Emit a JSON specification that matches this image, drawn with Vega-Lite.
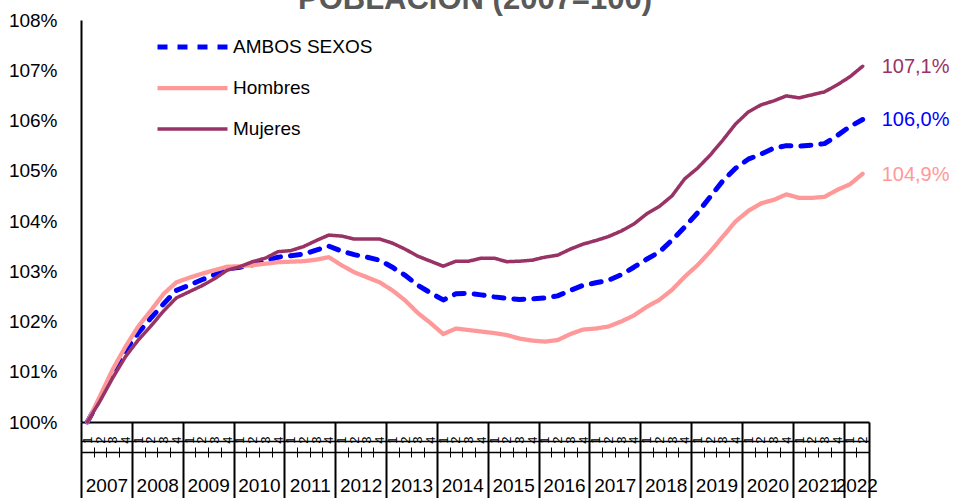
{
  "$schema": "https://vega.github.io/schema/vega-lite/v6.json",
  "width": 788,
  "height": 402,
  "autosize": {"type": "none"},
  "padding": {"left": 81, "top": 20, "right": 86, "bottom": 76},
  "background": "white",
  "config": {"view": {"stroke": null}, "font": "Liberation Sans", "axis": {"grid": false}},
  "title": {"text": "POBLACIÓN (2007=100)", "fontSize": 31, "fontWeight": "bold", "color": "#595959", "anchor": "middle", "offset": -5},
  "data": {"values": [
    {"t":0,"AMBOS SEXOS":100.00,"Hombres":100.00,"Mujeres":100.00},
    {"t":1,"AMBOS SEXOS":100.47,"Hombres":100.52,"Mujeres":100.42},
    {"t":2,"AMBOS SEXOS":100.96,"Hombres":101.05,"Mujeres":100.88},
    {"t":3,"AMBOS SEXOS":101.43,"Hombres":101.50,"Mujeres":101.30},
    {"t":4,"AMBOS SEXOS":101.77,"Hombres":101.90,"Mujeres":101.63},
    {"t":5,"AMBOS SEXOS":102.07,"Hombres":102.22,"Mujeres":101.91},
    {"t":6,"AMBOS SEXOS":102.35,"Hombres":102.55,"Mujeres":102.21},
    {"t":7,"AMBOS SEXOS":102.62,"Hombres":102.78,"Mujeres":102.47},
    {"t":8,"AMBOS SEXOS":102.72,"Hombres":102.87,"Mujeres":102.59},
    {"t":9,"AMBOS SEXOS":102.83,"Hombres":102.95,"Mujeres":102.71},
    {"t":10,"AMBOS SEXOS":102.93,"Hombres":103.02,"Mujeres":102.85},
    {"t":11,"AMBOS SEXOS":103.05,"Hombres":103.09,"Mujeres":103.02},
    {"t":12,"AMBOS SEXOS":103.08,"Hombres":103.10,"Mujeres":103.09},
    {"t":13,"AMBOS SEXOS":103.13,"Hombres":103.12,"Mujeres":103.19},
    {"t":14,"AMBOS SEXOS":103.20,"Hombres":103.15,"Mujeres":103.26},
    {"t":15,"AMBOS SEXOS":103.28,"Hombres":103.18,"Mujeres":103.39},
    {"t":16,"AMBOS SEXOS":103.31,"Hombres":103.19,"Mujeres":103.41},
    {"t":17,"AMBOS SEXOS":103.34,"Hombres":103.20,"Mujeres":103.49},
    {"t":18,"AMBOS SEXOS":103.42,"Hombres":103.23,"Mujeres":103.61},
    {"t":19,"AMBOS SEXOS":103.50,"Hombres":103.28,"Mujeres":103.72},
    {"t":20,"AMBOS SEXOS":103.40,"Hombres":103.12,"Mujeres":103.70},
    {"t":21,"AMBOS SEXOS":103.33,"Hombres":102.98,"Mujeres":103.64},
    {"t":22,"AMBOS SEXOS":103.28,"Hombres":102.88,"Mujeres":103.64},
    {"t":23,"AMBOS SEXOS":103.22,"Hombres":102.78,"Mujeres":103.64},
    {"t":24,"AMBOS SEXOS":103.08,"Hombres":102.62,"Mujeres":103.56},
    {"t":25,"AMBOS SEXOS":102.92,"Hombres":102.42,"Mujeres":103.44},
    {"t":26,"AMBOS SEXOS":102.72,"Hombres":102.17,"Mujeres":103.30},
    {"t":27,"AMBOS SEXOS":102.57,"Hombres":101.97,"Mujeres":103.20},
    {"t":28,"AMBOS SEXOS":102.43,"Hombres":101.75,"Mujeres":103.10},
    {"t":29,"AMBOS SEXOS":102.55,"Hombres":101.86,"Mujeres":103.20},
    {"t":30,"AMBOS SEXOS":102.56,"Hombres":101.83,"Mujeres":103.20},
    {"t":31,"AMBOS SEXOS":102.53,"Hombres":101.80,"Mujeres":103.26},
    {"t":32,"AMBOS SEXOS":102.49,"Hombres":101.77,"Mujeres":103.26},
    {"t":33,"AMBOS SEXOS":102.46,"Hombres":101.73,"Mujeres":103.19},
    {"t":34,"AMBOS SEXOS":102.44,"Hombres":101.66,"Mujeres":103.20},
    {"t":35,"AMBOS SEXOS":102.45,"Hombres":101.62,"Mujeres":103.22},
    {"t":36,"AMBOS SEXOS":102.47,"Hombres":101.60,"Mujeres":103.28},
    {"t":37,"AMBOS SEXOS":102.51,"Hombres":101.63,"Mujeres":103.32},
    {"t":38,"AMBOS SEXOS":102.62,"Hombres":101.75,"Mujeres":103.44},
    {"t":39,"AMBOS SEXOS":102.72,"Hombres":101.84,"Mujeres":103.54},
    {"t":40,"AMBOS SEXOS":102.77,"Hombres":101.86,"Mujeres":103.61},
    {"t":41,"AMBOS SEXOS":102.82,"Hombres":101.90,"Mujeres":103.69},
    {"t":42,"AMBOS SEXOS":102.93,"Hombres":102.00,"Mujeres":103.80},
    {"t":43,"AMBOS SEXOS":103.08,"Hombres":102.12,"Mujeres":103.94},
    {"t":44,"AMBOS SEXOS":103.24,"Hombres":102.29,"Mujeres":104.14},
    {"t":45,"AMBOS SEXOS":103.38,"Hombres":102.43,"Mujeres":104.29},
    {"t":46,"AMBOS SEXOS":103.62,"Hombres":102.63,"Mujeres":104.50},
    {"t":47,"AMBOS SEXOS":103.88,"Hombres":102.89,"Mujeres":104.84},
    {"t":48,"AMBOS SEXOS":104.16,"Hombres":103.12,"Mujeres":105.05},
    {"t":49,"AMBOS SEXOS":104.48,"Hombres":103.39,"Mujeres":105.31},
    {"t":50,"AMBOS SEXOS":104.80,"Hombres":103.69,"Mujeres":105.61},
    {"t":51,"AMBOS SEXOS":105.05,"Hombres":103.99,"Mujeres":105.93},
    {"t":52,"AMBOS SEXOS":105.23,"Hombres":104.20,"Mujeres":106.17},
    {"t":53,"AMBOS SEXOS":105.33,"Hombres":104.35,"Mujeres":106.31},
    {"t":54,"AMBOS SEXOS":105.45,"Hombres":104.42,"Mujeres":106.39},
    {"t":55,"AMBOS SEXOS":105.50,"Hombres":104.53,"Mujeres":106.49},
    {"t":56,"AMBOS SEXOS":105.49,"Hombres":104.46,"Mujeres":106.45},
    {"t":57,"AMBOS SEXOS":105.51,"Hombres":104.46,"Mujeres":106.51},
    {"t":58,"AMBOS SEXOS":105.54,"Hombres":104.48,"Mujeres":106.57},
    {"t":59,"AMBOS SEXOS":105.70,"Hombres":104.62,"Mujeres":106.71},
    {"t":60,"AMBOS SEXOS":105.88,"Hombres":104.73,"Mujeres":106.87},
    {"t":61,"AMBOS SEXOS":106.02,"Hombres":104.94,"Mujeres":107.08}
  ]},
  "transform": [{"fold": ["AMBOS SEXOS", "Hombres", "Mujeres"], "as": ["serie", "valor"]}],
  "resolve": {"scale": {"x": "independent"}, "axis": {"x": "independent"}},
  "layer": [
    {
      "mark": {"type": "line", "strokeCap": "round", "strokeJoin": "round"},
      "encoding": {
        "x": {"field": "t", "type": "quantitative", "title": null,
              "scale": {"domain": [-0.5, 61.5], "nice": false, "zero": false},
              "axis": {"orient": "bottom", "values": [-0.5,3.5,7.5,11.5,15.5,19.5,23.5,27.5,31.5,35.5,39.5,43.5,47.5,51.5,55.5,59.5,61.5],
                       "labels": false, "ticks": true, "tickSize": 76, "tickWidth": 2, "tickColor": "#000000",
                       "domain": true, "domainColor": "#000000", "domainWidth": 2, "grid": false}},
        "y": {"field": "valor", "type": "quantitative", "title": null,
              "scale": {"domain": [100, 108], "nice": false, "zero": false},
              "axis": {"values": [100,101,102,103,104,105,106,107,108], "labelExpr": "datum.value + '%'",
                       "ticks": false, "labelPadding": 24, "labelFontSize": 19, "labelColor": "#000000",
                       "labelFont": "Liberation Sans", "domainColor": "#000000", "domainWidth": 2, "grid": false}},
        "color": {"field": "serie", "type": "nominal", "title": null,
                  "scale": {"domain": ["AMBOS SEXOS", "Hombres", "Mujeres"], "range": ["#0000FF", "#FF9999", "#993366"]},
                  "legend": {"orient": "none", "legendX": 74, "legendY": 6.5, "symbolType": "stroke", "symbolSize": 4900,
                             "clipHeight": 41, "rowPadding": 0, "labelFontSize": 19, "labelFont": "Liberation Sans", "labelColor": "#000000",
                             "labelOffset": 3, "padding": 0, "title": null}},
        "strokeDash": {"field": "serie", "type": "nominal", "title": null,
                       "scale": {"domain": ["AMBOS SEXOS", "Hombres", "Mujeres"], "range": [[10, 10], [1, 0], [1, 0]]},
                       "legend": {"orient": "none", "legendX": 74, "legendY": 6.5, "symbolType": "stroke", "symbolSize": 4900,
                             "clipHeight": 41, "rowPadding": 0, "labelFontSize": 19, "labelFont": "Liberation Sans", "labelColor": "#000000",
                             "labelOffset": 3, "padding": 0, "title": null}},
        "strokeWidth": {"field": "serie", "type": "nominal", "title": null,
                        "scale": {"domain": ["AMBOS SEXOS", "Hombres", "Mujeres"], "range": [5, 3.5, 3.5]},
                        "legend": {"orient": "none", "legendX": 74, "legendY": 6.5, "symbolType": "stroke", "symbolSize": 4900,
                             "clipHeight": 41, "rowPadding": 0, "labelFontSize": 19, "labelFont": "Liberation Sans", "labelColor": "#000000",
                             "labelOffset": 3, "padding": 0, "title": null}}
      }
    },
    {
      "transform": [{"filter": "datum.t == 61"}, {"calculate": "replace(format(datum.valor, '.1f'), '.', ',') + '%'", "as": "etiqueta"}],
      "mark": {"type": "text", "align": "left", "baseline": "middle", "dx": 19, "dy": 1, "fontSize": 20, "font": "Liberation Sans"},
      "encoding": {
        "x": {"field": "t", "type": "quantitative", "scale": {"domain": [-0.5, 61.5], "nice": false, "zero": false}, "axis": null},
        "y": {"field": "valor", "type": "quantitative", "scale": {"domain": [100, 108], "nice": false, "zero": false}},
        "text": {"field": "etiqueta"},
        "color": {"field": "serie", "type": "nominal", "legend": null,
                  "scale": {"domain": ["AMBOS SEXOS", "Hombres", "Mujeres"], "range": ["#0000FF", "#FF9999", "#993366"]}}
      }
    },
    {
      "mark": {"type": "point", "opacity": 0},
      "encoding": {
        "x": {"field": "t", "type": "quantitative", "title": null,
              "scale": {"domain": [-0.5, 61.5], "nice": false, "zero": false},
              "axis": {"orient": "bottom", "offset": 19, "values": [0,1,2,3,4,5,6,7,8,9,10,11,12,13,14,15,16,17,18,19,20,21,22,23,24,25,26,27,28,29,30,31,32,33,34,35,36,37,38,39,40,41,42,43,44,45,46,47,48,49,50,51,52,53,54,55,56,57,58,59,60,61],
                       "labelExpr": "(datum.value % 4) + 1", "labelAngle": -90, "labelFontSize": 13, "labelColor": "#000000",
                       "labelPadding": -5, "labelOverlap": false, "labelFlush": false, "labelBound": false,
                       "ticks": false, "domain": true, "domainColor": "#000000", "domainWidth": 1.5, "grid": false}}
      }
    },
    {
      "mark": {"type": "point", "opacity": 0},
      "encoding": {
        "x": {"field": "t", "type": "quantitative", "title": null,
              "scale": {"domain": [-0.5, 61.5], "nice": false, "zero": false},
              "axis": {"orient": "bottom", "offset": 25, "values": [0.5,1.5,2.5,4.5,5.5,6.5,8.5,9.5,10.5,12.5,13.5,14.5,16.5,17.5,18.5,20.5,21.5,22.5,24.5,25.5,26.5,28.5,29.5,30.5,32.5,33.5,34.5,36.5,37.5,38.5,40.5,41.5,42.5,44.5,45.5,46.5,48.5,49.5,50.5,52.5,53.5,54.5,56.5,57.5,58.5,60.5],
                       "labels": false, "ticks": true, "tickSize": 10, "tickWidth": 1, "tickColor": "#000000",
                       "domain": false, "grid": false}}
      }
    },
    {
      "mark": {"type": "point", "opacity": 0},
      "encoding": {
        "x": {"field": "t", "type": "quantitative", "title": null,
              "scale": {"domain": [-0.5, 61.5], "nice": false, "zero": false},
              "axis": {"orient": "bottom", "offset": 30, "values": [1.5,5.5,9.5,13.5,17.5,21.5,25.5,29.5,33.5,37.5,41.5,45.5,49.5,53.5,57.5,60.5],
                       "labelExpr": "2007 + floor((datum.value + 0.5) / 4)", "labelFontSize": 19, "labelColor": "#000000",
                       "labelFont": "Liberation Sans", "labelPadding": 24, "labelOverlap": false, "labelFlush": false, "labelBound": false,
                       "ticks": false, "domain": true, "domainColor": "#000000", "domainWidth": 1.5, "grid": false}}
      }
    }
  ]
}
